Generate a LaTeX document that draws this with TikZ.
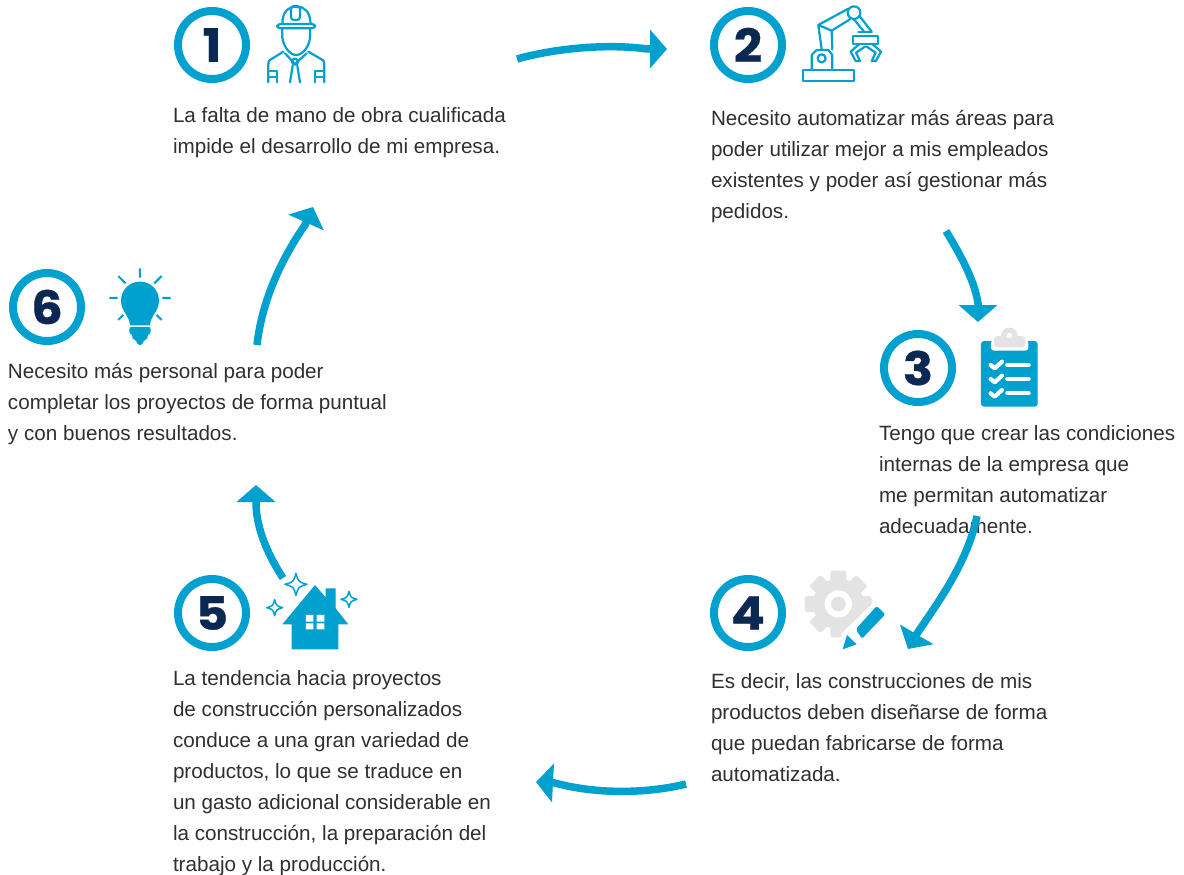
\documentclass[tikz,border=0pt]{standalone}
\usepackage{fontspec}
\setmainfont{Liberation Sans}
\newfontfamily\numfont{Poppins}[FakeStretch=1.08,BoldFeatures={FakeBold=0.6}]
\usetikzlibrary{arrows.meta}
\definecolor{bl}{HTML}{00A0CF}
\definecolor{nv}{HTML}{0B2852}
\definecolor{gy}{HTML}{E3E3E3}
\definecolor{tx}{HTML}{303030}
\tikzset{
 numc/.style={circle,draw=bl,line width=8pt,minimum size=68pt,inner sep=0pt,outer sep=0pt,text=nv,font=\numfont\bfseries\fontsize{46}{46}\selectfont},
 body/.style={anchor=north west,inner sep=0pt,outer sep=0pt,align=left,text=tx,font=\fontsize{20.65}{31}\selectfont},
 flow/.style={draw=bl,line width=7.5pt,-{Triangle[length=17pt,width=38pt]}},
 ico/.style={draw=bl,line width=2.2pt,line join=round,line cap=round},
 zm/.style={x=0.3333pt,y=-0.3333pt}
}
\begin{document}
\begin{tikzpicture}[x=1pt,y=-1pt]
\useasboundingbox (0,0) rectangle (1184,875);
\fill[white] (0,0) rectangle (1184,875);
% numbered circles
\node[numc] (n1) at (212,45) {1};
\node[numc] (n2) at (748,45) {2};
\node[numc] (n3) at (918,368) {3};
\node[numc] (n4) at (748,613) {4};
\node[numc] (n5) at (212,613) {5};
\node[numc] (n6) at (47,307) {6};
% texts
\node[body] (t1) at (173,108) {La falta de mano de obra cualificada\\impide el desarrollo de mi empresa.};
\node[body] (t2) at (711,110) {Necesito automatizar más áreas para\\poder utilizar mejor a mis empleados\\existentes y poder así gestionar más\\pedidos.};
\node[body] (t3) at (879,426) {Tengo que crear las condiciones\\internas de la empresa que\\me permitan automatizar\\adecuadamente.};
\node[body] (t4) at (711,674) {Es decir, las construcciones de mis\\productos deben diseñarse de forma\\que puedan fabricarse de forma\\automatizada.};
\node[body] (t5) at (173,671) {La tendencia hacia proyectos\\de construcción personalizados\\conduce a una gran variedad de\\productos, lo que se traduce en\\un gasto adicional considerable en\\la construcción, la preparación del\\trabajo y la producción.};
\node[body] (t6) at (8,363) {Necesito más personal para poder\\completar los proyectos de forma puntual\\y con buenos resultados.};
% connectors
\coordinate (a1s) at (517,59); \coordinate (a1b) at (647,49); \coordinate (a1e) at (667,49);
\coordinate (a2s) at (946,231); \coordinate (a2b) at (978,303); \coordinate (a2e) at (978,322);
\coordinate (a3s) at (977,516); \coordinate (a3b) at (918,632); \coordinate (a3e) at (908,649);
\coordinate (a4s) at (686,784); \coordinate (a4b) at (555,783); \coordinate (a4e) at (536,782);
\coordinate (a5s) at (283,578); \coordinate (a5b) at (256,505); \coordinate (a5e) at (256,485);
\coordinate (a6s) at (257,345); \coordinate (a6b) at (305,225); \coordinate (a6e) at (313,207);
\draw[flow] (a1s) .. controls (560,47) and (612,44) .. (a1b) -- (a1e);
\draw[flow] (a2s) .. controls (958,251) and (974,278) .. (a2b) -- (a2e);
\draw[flow] (a3s) .. controls (968,560) and (942,597) .. (a3b) -- (a3e);
\draw[flow] (a4s) .. controls (645,794) and (595,794) .. (a4b) -- (a4e);
\draw[flow] (a5s) .. controls (268,555) and (257,530) .. (a5b) -- (a5e);
\draw[flow] (a6s) .. controls (262,300) and (282,258) .. (a6b) -- (a6e);
% worker icon
\begin{scope}[shift={(160,0)},zm]
 \draw[ico] (367,72) .. controls (367,35) and (385,20) .. (410,20) .. controls (435,20) and (450,35) .. (452,72);
 \draw[ico,rounded corners=3pt] (352,72) rectangle (465,85);
 \draw[ico,rounded corners=3pt] (393,60) -- (393,18) -- (420,18) -- (420,60) -- cycle;
 \draw[ico] (367,85) -- (367,112) .. controls (370,140) and (390,165) .. (408,165) .. controls (428,165) and (448,140) .. (450,112) -- (450,85);
 \draw[ico] (370,155) -- (330,180) .. controls (326,183) and (325,187) .. (325,192) -- (325,247);
 \draw[ico] (445,155) -- (488,180) .. controls (492,183) and (493,187) .. (493,192) -- (493,247);
 \draw[ico] (375,160) -- (405,192) -- (440,160);
 \draw[ico] (405,185) circle (9);
 \draw[ico] (398,197) -- (390,247);
 \draw[ico] (412,197) -- (420,247);
 \draw[ico] (325,213) -- (352,213) -- (352,247);
 \draw[ico] (325,232) -- (352,232);
 \draw[ico] (493,213) -- (466,213) -- (466,247);
 \draw[ico] (493,232) -- (466,232);
\end{scope}
% robot icon
\begin{scope}[shift={(700,0)},zm]
 \draw[ico] (310,210) rectangle (462,243);
 \draw[ico] (335,210) -- (335,165) -- (350,150) -- (385,150) -- (397,165) -- (397,210);
 \draw[ico] (365,175) circle (12);
 \draw[ico] (365,148) -- (355,75) -- (395,92) -- (397,148);
 \draw[ico] (355,75) -- (443,27);
 \draw[ico] (395,92) -- (450,58);
 \draw[ico] (462,38) circle (19);
 \draw[ico] (480,50) -- (515,95);
 \draw[ico] (462,58) -- (492,95);
 \draw[ico] (475,95) -- (515,95);
 \draw[ico] (460,108) rectangle (535,132);
 \draw[ico] (478,132) -- (452,155) -- (467,183) -- (480,183) -- (468,158) -- (495,140);
 \draw[ico] (517,132) -- (543,155) -- (528,183) -- (515,183) -- (527,158) -- (500,140);
\end{scope}
% clipboard icon
\begin{scope}[shift={(870,320)},zm]
 \fill[bl,rounded corners=3pt] (333,63) rectangle (503,260);
 \fill[white,rounded corners=3pt] (363,60) rectangle (475,92);
 \fill[white] (333,57) rectangle (503,63);
 \fill[gy,rounded corners=3pt] (372,48) rectangle (465,82);
 \fill[gy] (418,48) circle (25);
 \fill[white] (418,46) circle (8);
 \foreach \yy in {135,177,220} {
  \draw[white,line width=4.2pt,line cap=round] (412,\yy) -- (476,\yy);
  \draw[white,line width=4.2pt,line cap=round,line join=round] (362,\yy) -- ++(12,10) -- ++(22,-20);
 }
\end{scope}
% gear and pencil icon
\begin{scope}[shift={(700,565)},zm]
 \foreach \aa in {0,45,...,315} {
  \fill[gy,rounded corners=2pt,rotate around={\aa:(415,117)}] (391,17) rectangle (439,70);
 }
 \fill[gy] (415,117) circle (76);
 \fill[white] (415,117) circle (41);
 \fill[gy] (415,117) circle (22);
 \fill[white] (425,205) -- (535,100) -- (575,145) -- (480,240) -- (420,262) -- cycle;
 \fill[bl,rounded corners=2pt] (467,193) -- (530,123) -- (556,148) -- (486,221) -- cycle;
 \fill[bl] (441,210) -- (470,238) -- (428,253) -- cycle;
\end{scope}
% house icon
\begin{scope}[shift={(160,565)},zm]
 \fill[bl] (367,178) -- (465,60) -- (497,97) -- (497,70) -- (527,70) -- (527,130) -- (565,178) -- (535,178) -- (535,253) -- (395,253) -- (395,178) -- cycle;
 \fill[white] (438,150) rectangle (460,170) (470,150) rectangle (493,170) (438,175) rectangle (460,193) (470,175) rectangle (493,193);
 \foreach \cx/\cy/\rr in {408/58/33,344/128/24,567/103/24} {
  \draw[bl,line width=1.5pt,line join=round] (\cx,\cy-\rr) .. controls (\cx+0.22*\rr,\cy-0.22*\rr) .. (\cx+\rr,\cy) .. controls (\cx+0.22*\rr,\cy+0.22*\rr) .. (\cx,\cy+\rr) .. controls (\cx-0.22*\rr,\cy+0.22*\rr) .. (\cx-\rr,\cy) .. controls (\cx-0.22*\rr,\cy-0.22*\rr) .. cycle;
 }
\end{scope}
% bulb icon
\begin{scope}[shift={(0,260)},zm]
 \fill[bl] (420,65) .. controls (388,65) and (363,90) .. (363,122) .. controls (363,155) and (388,165) .. (390,196) -- (450,196) .. controls (452,165) and (477,155) .. (477,122) .. controls (477,90) and (452,65) .. (420,65) -- cycle;
 \fill[bl,rounded corners=2pt] (388,201) -- (452,201) -- (452,222) -- (443,222) -- (443,238) -- (432,238) -- (428,255) -- (412,255) -- (408,238) -- (397,238) -- (397,222) -- (388,222) -- cycle;
 \draw[bl,line width=2pt]
  (420,25) -- (420,53)
  (355,48) -- (377,70)
  (485,48) -- (463,70)
  (328,114) -- (353,114)
  (487,114) -- (512,114)
  (355,180) -- (370,165)
  (485,180) -- (470,165);
\end{scope}
\end{tikzpicture}
\end{document}
